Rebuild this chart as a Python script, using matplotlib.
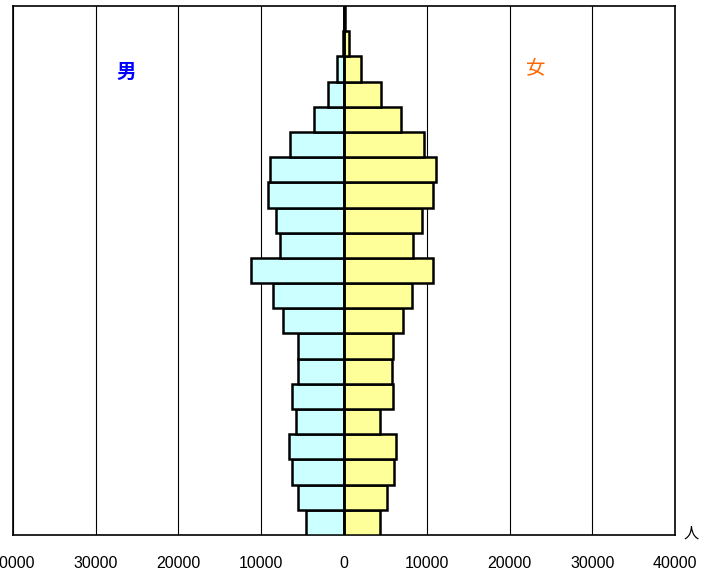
import numpy as np
import matplotlib
matplotlib.use("Agg")
import matplotlib.pyplot as plt

plt.rcParams['font.family'] = ['Liberation Sans', 'Noto Sans CJK JP', 'DejaVu Sans']

# age groups 0-4 ... 95-99, 100+
ages = ['0-4', '5-9', '10-14', '15-19', '20-24', '25-29', '30-34', '35-39',
        '40-44', '45-49', '50-54', '55-59', '60-64', '65-69', '70-74',
        '75-79', '80-84', '85-89', '90-94', '95-99', '100+']
male = [4590, 5610, 6250, 6690, 5800, 6250, 5610, 5610,
        7340, 8550, 11250, 7740, 8180, 9190, 8900,
        6530, 3630, 1900, 800, 150, 30]
female = [4350, 5160, 6010, 6290, 4350, 5890, 5800, 5960,
          7090, 8260, 10800, 8380, 9470, 10800, 11120,
          9710, 6890, 4430, 2050, 550, 80]
xticks = [-40000, -30000, -20000, -10000, 0, 10000, 20000, 30000, 40000]

fig = plt.figure(figsize=(7.02, 5.73), dpi=100)
ax = fig.add_axes([13/702, 38/573, 662/702, 529/573])

y = np.arange(len(ages))
ax.barh(y, -np.array(male), height=1.0, color='#CCFFFF', edgecolor='black', linewidth=1.8, zorder=3)
ax.barh(y, female, height=1.0, color='#FFFF99', edgecolor='black', linewidth=1.8, zorder=3)
ax.axvline(0, color='black', lw=1.8, zorder=4)

ax.set_xlim(-40000, 40000)
ax.set_ylim(-0.5, len(ages) - 0.5)
ax.set_xticks(xticks)
ax.set_xticklabels([str(abs(v)) for v in xticks], fontsize=11.5)
ax.set_yticks([])
ax.tick_params(axis='x', length=0, pad=15)
ax.set_axisbelow(True)
ax.grid(axis='x', color='black', lw=0.8)
for s in ax.spines.values():
    s.set_color('black')
    s.set_linewidth(1.2)

fig.text(126/702, 1 - 73/573, '男', color='#0000FF', fontsize=14, fontweight='bold',
         ha='center', va='center')
fig.text(536/702, 1 - 68/573, '女', color='#FF6600', fontsize=14,
         ha='center', va='center')
fig.text(691/702, 1 - 534/573, '人', color='black', fontsize=11,
         ha='center', va='center')

fig.savefig('out.png', dpi=100)
